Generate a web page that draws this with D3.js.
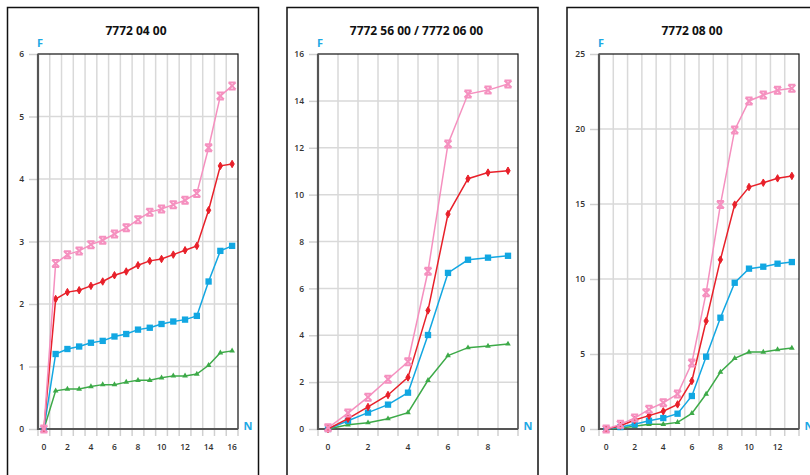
<!DOCTYPE html>
<html>
<head>
<meta charset="utf-8">
<script src="https://cdn.jsdelivr.net/npm/d3@7"></script>
<style>
  html, body { margin: 0; padding: 0; background: #fff; }
  svg { display: block; }
  text { font-family: "Open Sans", "Noto Sans", sans-serif; }
</style>
</head>
<body>
<svg id="chart" width="810" height="475"></svg>
<script>
// ---------- DATA ----------
const titles = ["7772 04 00", "7772 56 00 / 7772 06 00", "7772 08 00"];
const xCats1 = d3.range(0, 17);
const xCats2 = d3.range(0, 10);
const xCats3 = d3.range(0, 14);
const yTicks1 = [0, 1, 2, 3, 4, 5, 6];
const yTicks2 = [0, 2, 4, 6, 8, 10, 12, 14, 16];
const yTicks3 = [0, 5, 10, 15, 20, 25];
const xLabels1 = [0, 2, 4, 6, 8, 10, 12, 14, 16];
const xLabels2 = [0, 2, 4, 6, 8];
const xLabels3 = [0, 2, 4, 6, 8, 10, 12];

// panel 1 series
const green1 = [0, 0.61, 0.64, 0.64, 0.68, 0.71, 0.71, 0.75, 0.78, 0.78, 0.82, 0.85, 0.85, 0.88, 1.02, 1.22, 1.25];
const blue1  = [0, 1.20, 1.28, 1.32, 1.38, 1.41, 1.48, 1.52, 1.59, 1.62, 1.68, 1.72, 1.75, 1.81, 2.36, 2.85, 2.93];
const red1   = [0, 2.08, 2.19, 2.22, 2.29, 2.36, 2.46, 2.52, 2.62, 2.69, 2.72, 2.79, 2.86, 2.93, 3.50, 4.21, 4.24];
const pink1  = [0, 2.65, 2.79, 2.85, 2.95, 3.02, 3.12, 3.22, 3.35, 3.47, 3.52, 3.59, 3.66, 3.77, 4.50, 5.33, 5.49];

// panel 2 series
const green2 = [0, 0.18, 0.27, 0.44, 0.70, 2.08, 3.13, 3.47, 3.54, 3.63];
const blue2  = [0, 0.35, 0.70, 1.04, 1.55, 4.01, 6.66, 7.22, 7.31, 7.39];
const red2   = [0, 0.44, 0.94, 1.45, 2.20, 5.06, 9.17, 10.68, 10.94, 11.02];
const pink2  = [0.05, 0.68, 1.36, 2.12, 2.87, 6.73, 12.16, 14.29, 14.46, 14.72];

// panel 3 series
const green3 = [0, 0.07, 0.18, 0.31, 0.31, 0.44, 1.04, 2.33, 3.80, 4.71, 5.13, 5.13, 5.29, 5.40];
const blue3  = [0, 0.13, 0.31, 0.55, 0.73, 1.02, 2.20, 4.82, 7.42, 9.75, 10.69, 10.82, 11.02, 11.13];
const red3   = [0, 0.22, 0.60, 0.89, 1.18, 1.64, 3.20, 7.20, 11.29, 14.96, 16.13, 16.42, 16.71, 16.87];
const pink3  = [0, 0.31, 0.73, 1.31, 1.75, 2.33, 4.40, 9.09, 14.96, 19.94, 21.87, 22.27, 22.58, 22.71];

// ---------- LAYOUT / STYLE ----------
const colors = { green: "#3daa48", blue: "#12a7e2", red: "#e8202a", pink: "#f590bf" };
const labelBlue = "#1ea9e4";

const panels = [
  { frameX: 7.5, plotL: 38, titleX: 136, cats: xCats1, yMax: 6, yTicks: yTicks1, xLabels: xLabels1,
    series: [["green", green1], ["blue", blue1], ["red", red1], ["pink", pink1]], title: titles[0] },
  { frameX: 287, plotL: 318, titleX: 416.5, cats: xCats2, yMax: 16, yTicks: yTicks2, xLabels: xLabels2,
    series: [["green", green2], ["blue", blue2], ["red", red2], ["pink", pink2]], title: titles[1] },
  { frameX: 567, plotL: 599, titleX: 692, cats: xCats3, yMax: 25, yTicks: yTicks3, xLabels: xLabels3,
    series: [["green", green3], ["blue", blue3], ["red", red3], ["pink", pink3]], title: titles[2] }
];

const plotW = 200, plotTop = 54, plotBottom = 429;

const svg = d3.select("#chart");

function drawMarker(g, kind, color) {
  if (kind === "pink") {
    const s = 3.5;
    g.append("path")
      .attr("d", `M${-s},${-s}L${s},${s}M${-s},${s}L${s},${-s}M${-s},${-s}L${s},${-s}M${-s},${s}L${s},${s}`)
      .attr("stroke", color).attr("stroke-width", 2).attr("fill", "none");
  } else if (kind === "red") {
    g.append("path").attr("d", d3.symbol(d3.symbolDiamond, 16)())
      .attr("fill", color).attr("stroke", color).attr("stroke-width", 1);
  } else if (kind === "blue") {
    g.append("path").attr("d", d3.symbol(d3.symbolSquare, 40)())
      .attr("fill", color);
  } else {
    g.append("path").attr("d", d3.symbol(d3.symbolTriangle, 14)())
      .attr("fill", color);
  }
}

panels.forEach(p => {
  const root = svg.append("g");

  // outer frame
  root.append("rect")
    .attr("x", p.frameX).attr("y", 7.5)
    .attr("width", 251).attr("height", 500)
    .attr("fill", "none").attr("stroke", "#111").attr("stroke-width", 1.5);

  const x = d3.scaleBand().domain(p.cats).range([p.plotL, p.plotL + plotW]).padding(0);
  const y = d3.scaleLinear().domain([0, p.yMax]).range([plotBottom, plotTop]);
  const cx = d => x(d) + x.bandwidth() / 2;

  // vertical gridlines at band boundaries
  root.append("g").selectAll("line")
    .data(p.cats.slice(1))
    .join("line")
    .attr("x1", d => x(d)).attr("x2", d => x(d))
    .attr("y1", plotTop).attr("y2", plotBottom)
    .attr("stroke", "#d9d9d9").attr("stroke-width", 1.5);

  // horizontal gridlines
  root.append("g").selectAll("line")
    .data(p.yTicks.slice(1, -1))
    .join("line")
    .attr("x1", p.plotL).attr("x2", p.plotL + plotW)
    .attr("y1", d => y(d)).attr("y2", d => y(d))
    .attr("stroke", "#d9d9d9").attr("stroke-width", 1.5);

  // plot border (top/right)
  root.append("rect")
    .attr("x", p.plotL).attr("y", plotTop)
    .attr("width", plotW).attr("height", plotBottom - plotTop)
    .attr("fill", "none").attr("stroke", "#111").attr("stroke-width", 1.2);

  // y axis
  const yAxis = d3.axisLeft(y).tickValues(p.yTicks).tickSize(9).tickPadding(5).tickFormat(d3.format("d"));
  const ya = root.append("g").attr("transform", `translate(${p.plotL},0)`).call(yAxis);
  ya.select(".domain").remove();
  ya.selectAll(".tick line").attr("stroke", "#d0d0d0").attr("stroke-width", 1.5);
  ya.selectAll(".tick text").attr("fill", "#333").attr("font-size", 8.5).attr("font-weight", 600);

  // x axis: ticks at band boundaries, labels at centers
  root.append("g").selectAll("line")
    .data(p.cats.concat([null]))
    .join("line")
    .attr("x1", (d, i) => i < p.cats.length ? x(d) : p.plotL + plotW)
    .attr("x2", (d, i) => i < p.cats.length ? x(d) : p.plotL + plotW)
    .attr("y1", plotBottom).attr("y2", plotBottom + 7)
    .attr("stroke", "#d0d0d0").attr("stroke-width", 1.5);
  root.append("g").selectAll("text")
    .data(p.xLabels)
    .join("text")
    .attr("x", d => cx(d)).attr("y", plotBottom + 21)
    .attr("text-anchor", "middle")
    .attr("fill", "#333").attr("font-size", 8.5).attr("font-weight", 600)
    .text(d => d);

  // left & bottom axis lines (dark, thick)
  root.append("line")
    .attr("x1", p.plotL).attr("x2", p.plotL)
    .attr("y1", plotTop).attr("y2", plotBottom + 1)
    .attr("stroke", "#555").attr("stroke-width", 2.2);
  root.append("line")
    .attr("x1", p.plotL - 1).attr("x2", p.plotL + plotW)
    .attr("y1", plotBottom).attr("y2", plotBottom)
    .attr("stroke", "#555").attr("stroke-width", 2.2);

  // series
  const line = d3.line().x((d, i) => cx(p.cats[i])).y(d => y(d));
  p.series.forEach(([kind, vals]) => {
    root.append("path")
      .datum(vals)
      .attr("d", line)
      .attr("fill", "none")
      .attr("stroke", colors[kind])
      .attr("stroke-width", 1.5);
    const mg = root.append("g");
    vals.forEach((v, i) => {
      const g = mg.append("g").attr("transform", `translate(${cx(p.cats[i])},${y(v)})`);
      drawMarker(g, kind, colors[kind]);
    });
  });

  // title
  root.append("text")
    .attr("x", p.titleX).attr("y", 35)
    .attr("text-anchor", "middle")
    .attr("font-size", 12).attr("font-weight", 700).attr("fill", "#111")
    .text(p.title);

  // axis letters
  root.append("text")
    .attr("x", p.plotL + 2).attr("y", 47)
    .attr("text-anchor", "middle")
    .attr("font-size", 11).attr("font-weight", 700).attr("fill", labelBlue)
    .text("F");
  root.append("text")
    .attr("x", p.plotL + plotW + 10).attr("y", 430)
    .attr("text-anchor", "middle")
    .attr("font-size", 11).attr("font-weight", 700).attr("fill", labelBlue)
    .text("N");
});
</script>
</body>
</html>
